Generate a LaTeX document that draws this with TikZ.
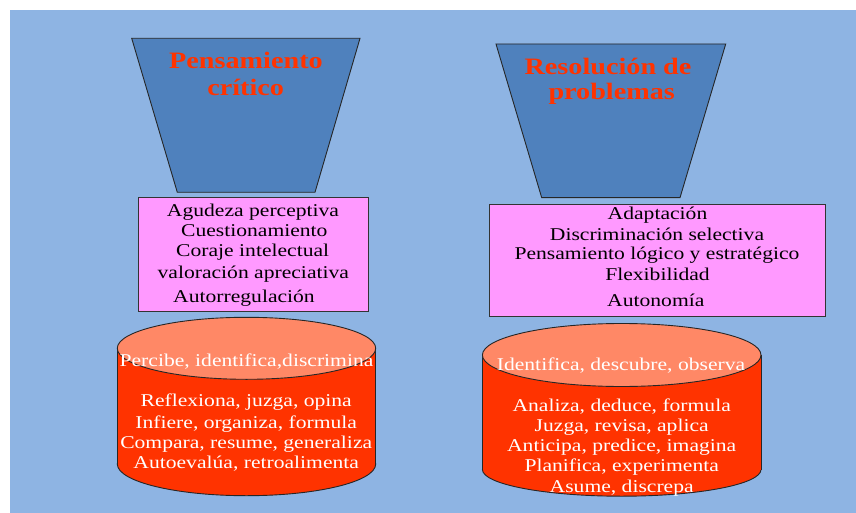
\documentclass[tikz,border=0pt]{standalone}
\usepackage{fontspec}
\setmainfont{Liberation Serif}[FakeStretch=1.2]
\definecolor{bgblue}{HTML}{8EB4E3}
\definecolor{funnelblue}{HTML}{4F81BD}
\definecolor{titlered}{HTML}{FF3300}
\definecolor{boxpink}{HTML}{FF99FF}
\definecolor{cyltop}{HTML}{FF8866}
\definecolor{cylbody}{HTML}{FF3300}
\tikzset{
  funnel/.style={fill=funnelblue, draw=black!85, line width=0.9pt, line join=miter},
  titletext/.style={anchor=base, text=titlered, font=\fontsize{23.5}{28}\selectfont\bfseries, inner sep=0pt},
  pinkbox/.style={fill=boxpink, draw=black!80, line width=0.9pt, inner sep=0pt},
  boxtext/.style={anchor=base, text=black, font=\fontsize{18}{20}\selectfont, inner sep=0pt},
  cyltext/.style={anchor=base, text=white, font=\fontsize{18}{20}\selectfont, inner sep=0pt},
  cylline/.style={draw=black!85, line width=0.9pt},
}
\begin{document}
\begin{tikzpicture}[x=1pt,y=-1pt]
\useasboundingbox (0,0) rectangle (856,513);
\fill[white] (0,0) rectangle (856,513);
\fill[bgblue] (10,10) rectangle (856,513);

% funnels
\filldraw[funnel] (131.7,38.3) -- (360,38.3) -- (315,192.3) -- (177.3,192.3) -- cycle;
\filldraw[funnel] (496,44) -- (725.7,44) -- (680,197.7) -- (541.7,197.7) -- cycle;
\node[titletext] (t1a) at (246,69) {Pensamiento};
\node[titletext] (t1b) at (245.7,95.7) {crítico};
\node[titletext] (t2a) at (608,74.3) {Resolución de};
\node[titletext] (t2b) at (611.7,100) {problemas};

% pink boxes
\node[pinkbox, minimum width=230pt, minimum height=114.4pt] (box1) at (253.3,254.5) {};
\node[pinkbox, minimum width=335.7pt, minimum height=112.7pt] (box2) at (657.2,260.3) {};
\node[boxtext] (b1a) at (253,216.7) {Agudeza perceptiva};
\node[boxtext] (b1b) at (254.3,236.7) {Cuestionamiento};
\node[boxtext] (b1c) at (252.7,256.7) {Coraje intelectual};
\node[boxtext] (b1d) at (253.3,278) {valoración apreciativa};
\node[boxtext] (b1e) at (244,302.7) {Autorregulación};
\node[boxtext] (b2a) at (657.5,219) {Adaptación};
\node[boxtext] (b2b) at (657,240) {Discriminación selectiva};
\node[boxtext] (b2c) at (657,259.3) {Pensamiento lógico y estratégico};
\node[boxtext] (b2d) at (657.5,280) {Flexibilidad};
\node[boxtext] (b2e) at (655.8,306) {Autonomía};

% left cylinder
\filldraw[fill=cylbody, cylline] (246.5,464) ellipse [x radius=129.2pt, y radius=31.7pt];
\fill[cylbody] (117.3,348.3) rectangle (375.7,464);
\draw[cylline] (117.3,348.3) -- (117.3,464);
\draw[cylline] (375.7,348.3) -- (375.7,464);
\filldraw[fill=cyltop, cylline] (246.5,348.3) ellipse [x radius=129.2pt, y radius=31pt];
\node[cyltext] (c1a) at (246.5,366.7) {Percibe, identifica,discrimina};
\node[cyltext] (c1b) at (246.2,406.7) {Reflexiona, juzga, opina};
\node[cyltext] (c1c) at (246.2,428.3) {Infiere, organiza, formula};
\node[cyltext] (c1d) at (246.2,448.3) {Compara, resume, generaliza};
\node[cyltext] (c1e) at (246.2,468.3) {Autoevalúa, retroalimenta};

% right cylinder
\filldraw[fill=cylbody, cylline] (621.7,469.5) ellipse [x radius=139.3pt, y radius=26.7pt];
\fill[cylbody] (482.4,355) rectangle (761,469.5);
\draw[cylline] (482.4,355) -- (482.4,469.5);
\draw[cylline] (761,355) -- (761,469.5);
\filldraw[fill=cyltop, cylline] (621.7,355) ellipse [x radius=139.3pt, y radius=31.5pt];
\node[cyltext] (c2a) at (621,370) {Identifica, descubre, observa};
\node[cyltext] (c2b) at (621.7,411) {Analiza, deduce, formula};
\node[cyltext] (c2c) at (621.7,431.7) {Juzga, revisa, aplica};
\node[cyltext] (c2d) at (621.7,451.7) {Anticipa, predice, imagina};
\node[cyltext] (c2e) at (621.7,471.7) {Planifica, experimenta};
\node[cyltext] (c2f) at (621.7,492.7) {Asume, discrepa};
\end{tikzpicture}
\end{document}
